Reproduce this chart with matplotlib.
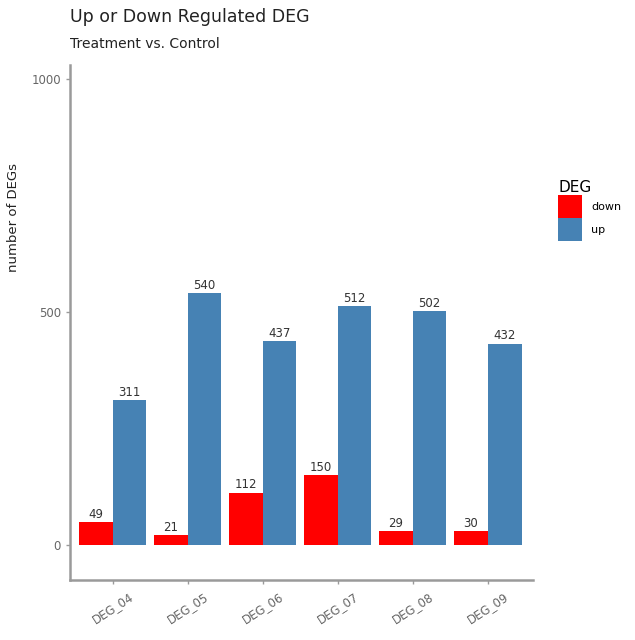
import matplotlib.pyplot as plt
import numpy as np

# data
samples = ["DEG_04", "DEG_05", "DEG_06", "DEG_07", "DEG_08", "DEG_09"]
down = [49, 21, 112, 150, 29, 30]
up = [311, 540, 437, 512, 502, 432]

red = "#ff0000"
blue = "#4682b4"
grey = "#9a9a9a"

fig = plt.figure(figsize=(6.35, 6.4), dpi=100)
ax = fig.add_axes([0.110, 0.094, 0.729, 0.804])

x = np.arange(1, len(samples) + 1)
w = 0.45
b1 = ax.bar(x - w / 2, down, width=w, color=red, label="down")
b2 = ax.bar(x + w / 2, up, width=w, color=blue, label="up")

for bars, vals in [(b1, down), (b2, up)]:
    for r, v in zip(bars, vals):
        ax.text(r.get_x() + r.get_width() / 2, v + 3, str(v),
                ha="center", va="bottom", fontsize=8.5, color="#333333")

ax.set_xlim(0.43, 6.6)
ax.set_ylim(-75, 1030)
ax.set_xticks(x)
ax.set_xticklabels(samples, rotation=33, ha="center", va="top",
                   fontsize=8.5, color="#666666")
ax.set_yticks([0, 500, 1000])
ax.set_yticklabels(["0", "500", "1000"], fontsize=8.5, color="#666666")

for s in ["top", "right"]:
    ax.spines[s].set_visible(False)
for s in ["left", "bottom"]:
    ax.spines[s].set_color(grey)
    ax.spines[s].set_linewidth(1.8)
ax.tick_params(colors=grey, length=3, width=1, labelcolor="#666666")
ax.tick_params(axis="x", pad=4)

fig.text(0.110, 0.974, "Up or Down Regulated DEG", fontsize=12.5,
         color="#222222", va="center", ha="left")
fig.text(0.110, 0.932, "Treatment vs. Control", fontsize=10,
         color="#222222", va="center", ha="left")
fig.text(0.022, 0.66, "number of DEGs", rotation=90, fontsize=9.5,
         color="#222222", va="center", ha="center")

leg = ax.legend(title="DEG", loc="upper left", bbox_to_anchor=(1.045, 0.785),
                frameon=False, fontsize=8, title_fontsize=11,
                handlelength=2.2, handleheight=2.8, handletextpad=0.8,
                labelspacing=0.0, borderaxespad=0)
leg._legend_box.align = "left"

fig.savefig("out.png", dpi=100)
